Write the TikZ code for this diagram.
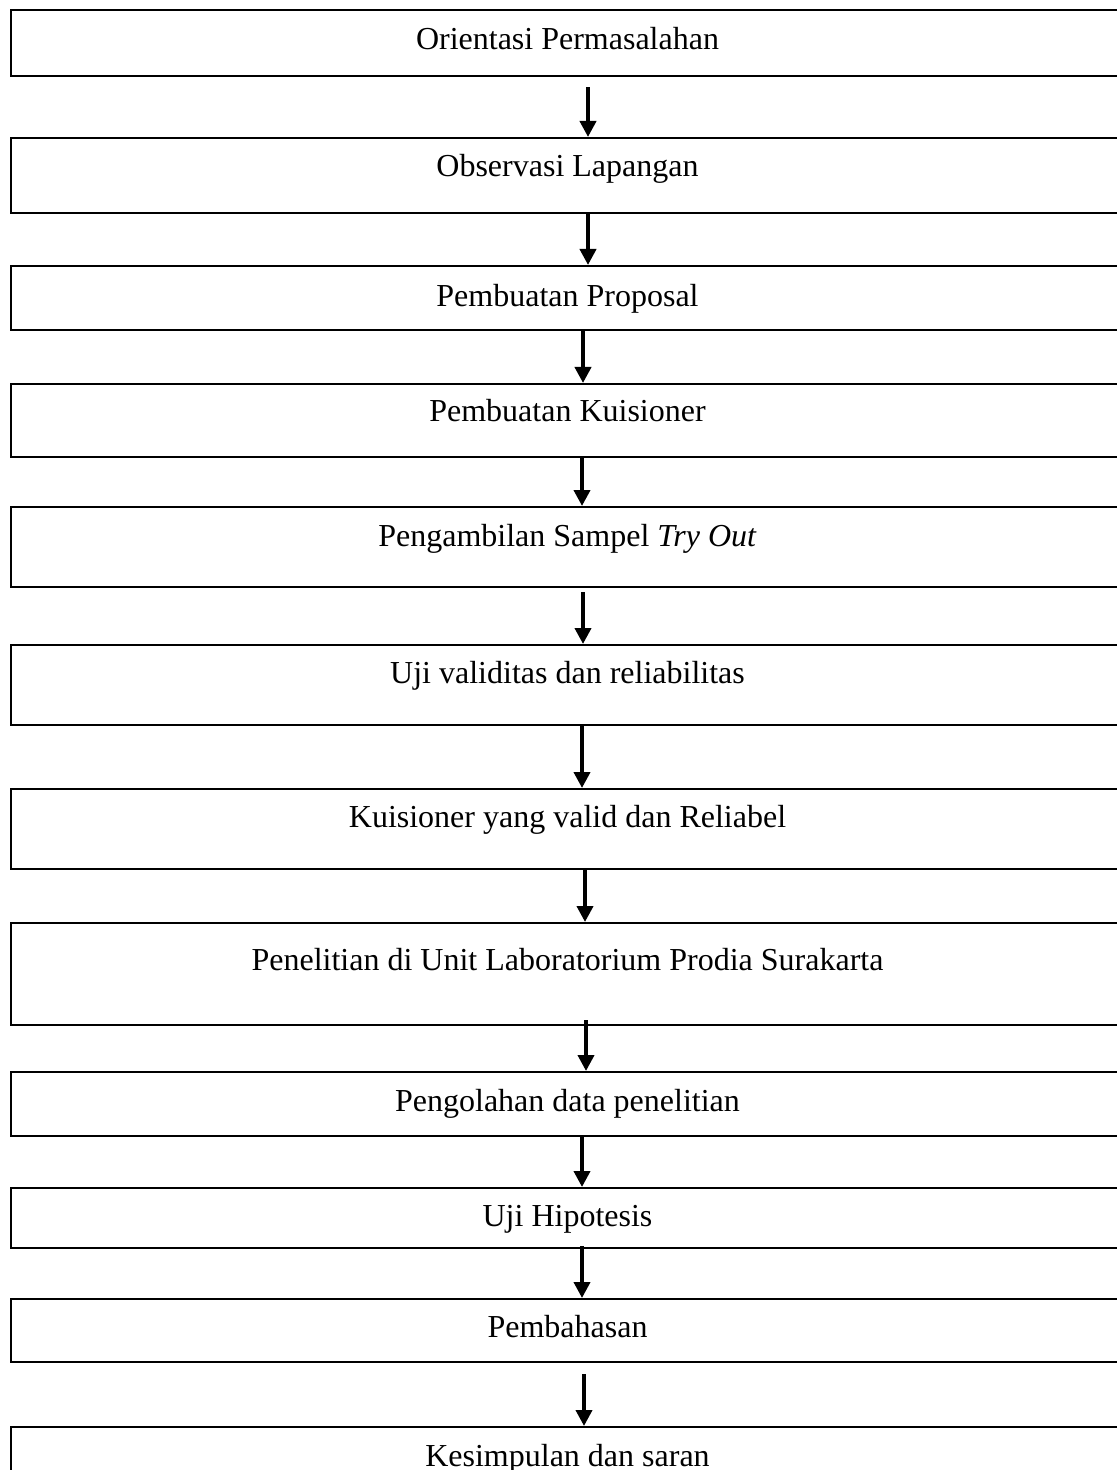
\documentclass[tikz,border=0pt]{standalone}
\usepackage{fontspec}
\setmainfont{Liberation Serif}
\usetikzlibrary{arrows.meta}
\begin{document}
\begin{tikzpicture}[x=0.5pt,y=-0.5pt,
  box/.style={draw=black, line width=1.2pt, rectangle, minimum width=556.5pt, anchor=north, inner sep=0pt},
  lbl/.style={anchor=base, inner sep=0pt, font=\fontsize{16}{19}\selectfont},
  arr/.style={line width=1.9pt, -{Triangle[width=8pt,length=8pt]}}]
\clip (0,0) rectangle (1117,1470);
% boxes
\node[box, minimum height=33pt] (b1) at (567.5,9) {};
\node[box, minimum height=37.5pt] (b2) at (567.5,137) {};
\node[box, minimum height=32pt] (b3) at (567.5,265) {};
\node[box, minimum height=36.5pt] (b4) at (567.5,383) {};
\node[box, minimum height=40pt] (b5) at (567.5,506) {};
\node[box, minimum height=40pt] (b6) at (567.5,644) {};
\node[box, minimum height=40pt] (b7) at (567.5,788) {};
\node[box, minimum height=51pt] (b8) at (567.5,922) {};
\node[box, minimum height=32pt] (b9) at (567.5,1071) {};
\node[box, minimum height=30pt] (b10) at (567.5,1187) {};
\node[box, minimum height=31.5pt] (b11) at (567.5,1298) {};
\node[box, minimum height=40pt] (b12) at (567.5,1426) {};
% labels
\node[lbl] (t1) at (567.5,50) {Orientasi Permasalahan};
\node[lbl] (t2) at (567.5,177) {Observasi Lapangan};
\node[lbl] (t3) at (567.5,307) {Pembuatan Proposal};
\node[lbl] (t4) at (567.5,422) {Pembuatan Kuisioner};
\node[lbl] (t5) at (567.5,546) {Pengambilan Sampel \textit{Try Out}};
\node[lbl] (t6) at (567.5,683) {Uji validitas dan reliabilitas};
\node[lbl] (t7) at (567.5,827) {Kuisioner yang valid dan Reliabel};
\node[lbl] (t8) at (567.5,970) {Penelitian di Unit Laboratorium Prodia Surakarta};
\node[lbl] (t9) at (567.5,1111) {Pengolahan data penelitian};
\node[lbl] (t10) at (567.5,1226) {Uji Hipotesis};
\node[lbl] (t11) at (567.5,1337) {Pembahasan};
\node[lbl] (t12) at (567.5,1466) {Kesimpulan dan saran};
% arrows
\draw[arr] ([yshift=-5pt]b1.south -| 588,0) -- (b2.north -| 588,0);
\draw[arr] (b2.south -| 588,0) -- (b3.north -| 588,0);
\draw[arr] (b3.south -| 583,0) -- (b4.north -| 583,0);
\draw[arr] (b4.south -| 582,0) -- (b5.north -| 582,0);
\draw[arr] ([yshift=-2pt]b5.south -| 583,0) -- (b6.north -| 583,0);
\draw[arr] (b6.south -| 582,0) -- (b7.north -| 582,0);
\draw[arr] (b7.south -| 585,0) -- (b8.north -| 585,0);
\draw[arr] ([yshift=3pt]b8.south -| 586,0) -- (b9.north -| 586,0);
\draw[arr] (b9.south -| 582,0) -- (b10.north -| 582,0);
\draw[arr] ([yshift=1.5pt]b10.south -| 582,0) -- (b11.north -| 582,0);
\draw[arr] ([yshift=-5.5pt]b11.south -| 584,0) -- (b12.north -| 584,0);
\end{tikzpicture}
\end{document}
